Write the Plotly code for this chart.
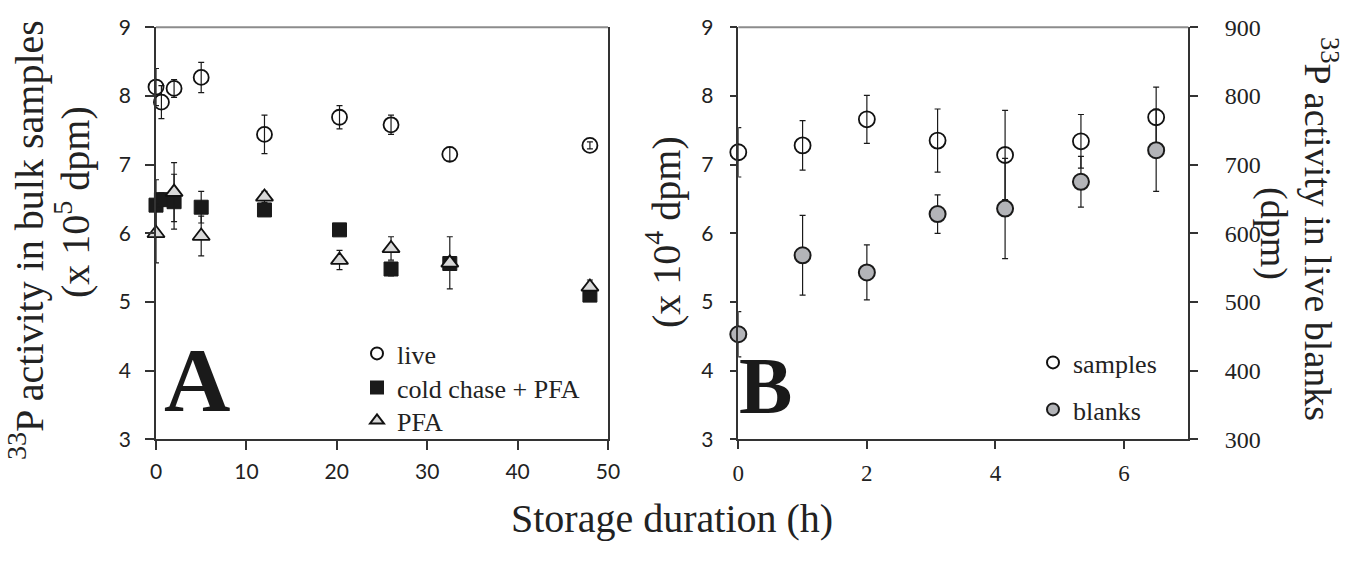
import plotly.graph_objects as go

W, H = 1345, 565

# ---------------- data: panel A ----------------
live_t = [0, 0.6, 2, 5, 12, 20.3, 26, 32.5, 48]
live_v = [8.13, 7.91, 8.11, 8.27, 7.44, 7.69, 7.58, 7.15, 7.28]
live_e = [0.27, 0.24, 0.13, 0.22, 0.28, 0.17, 0.14, 0.10, 0.05]

chase_t = [0, 0.6, 2, 5, 12, 20.3, 26, 32.5, 48]
chase_v = [6.41, 6.49, 6.46, 6.38, 6.34, 6.05, 5.48, 5.56, 5.10]
chase_e = [0.37, 0.10, 0.40, 0.23, 0.08, 0.05, 0.10, 0.10, 0.05]

pfa_t = [0, 2, 5, 12, 20.3, 26, 32.5, 48]
pfa_v = [6.00, 6.60, 5.96, 6.53, 5.61, 5.78, 5.57, 5.22]
pfa_e = [0.43, 0.43, 0.29, 0.08, 0.14, 0.17, 0.38, 0.10]

# ---------------- data: panel B ----------------
b_t = [0, 1, 2, 3.1, 4.15, 5.33, 6.5]
samples_v = [7.18, 7.28, 7.66, 7.35, 7.14, 7.34, 7.69]
samples_e = [0.36, 0.36, 0.35, 0.46, 0.65, 0.39, 0.44]
blanks_v = [453, 568, 543, 628, 636, 675, 721]
blanks_e = [33, 58, 40, 28, 73, 37, 60]

xA_ticks = [0, 10, 20, 30, 40, 50]
xB_ticks = [0, 2, 4, 6]
yL_ticks = [3, 4, 5, 6, 7, 8, 9]
yR_ticks = [300, 400, 500, 600, 700, 800, 900]

SERIF = "Liberation Serif, Times New Roman, serif"
SANS = "Lato, Open Sans, sans-serif"

domA = [156 / W, 608 / W]
domB = [738.3 / W, 1188.3 / W]
domY = [(H - 439.3) / H, (H - 27.3) / H]


def err(arr, w=3):
    return dict(type="data", array=arr, visible=True, color="#1a1a1a", thickness=1.2, width=w)


def leg(px, py):
    # legend box whose single item marker is centred near pixel (px, py)
    return dict(x=(px - 19) / W, y=(H - (py - 24)) / H, xanchor="left", yanchor="top",
                font=dict(family=SERIF, size=26, color="#222"), bgcolor="rgba(0,0,0,0)",
                itemsizing="constant")


fig = go.Figure()

fig.add_trace(go.Scatter(
    x=live_t, y=live_v, mode="markers", name="live", xaxis="x", yaxis="y",
    error_y=err(live_e), cliponaxis=False, legend="legend",
    marker=dict(symbol="circle-open", size=15, color="#111", line=dict(width=1.8, color="#111"))))
fig.add_trace(go.Scatter(
    x=chase_t, y=chase_v, mode="markers", name="cold chase + PFA", xaxis="x", yaxis="y",
    error_y=err(chase_e), cliponaxis=False, legend="legend2",
    marker=dict(symbol="square", size=14, color="#1a1a1a", line=dict(width=1, color="#1a1a1a"))))
fig.add_trace(go.Scatter(
    x=pfa_t, y=pfa_v, mode="markers", name="PFA", xaxis="x", yaxis="y",
    error_y=err(pfa_e), cliponaxis=False, legend="legend3",
    marker=dict(symbol="triangle-up", size=15, color="#d9d9d9", line=dict(width=1.8, color="#111"))))

fig.add_trace(go.Scatter(
    x=b_t, y=samples_v, mode="markers", name="samples", xaxis="x2", yaxis="y3",
    error_y=err(samples_e), cliponaxis=False, legend="legend4",
    marker=dict(symbol="circle-open", size=16, color="#111", line=dict(width=1.8, color="#111"))))
fig.add_trace(go.Scatter(
    x=b_t, y=blanks_v, mode="markers", name="blanks", xaxis="x2", yaxis="y4",
    error_y=err(blanks_e), cliponaxis=False, legend="legend5",
    marker=dict(symbol="circle", size=16, color="#b3b4b8", line=dict(width=2, color="#1a1a1a"))))

axis_common = dict(showgrid=False, zeroline=False, showline=True, linecolor="#333",
                   linewidth=1.5, ticks="outside", tickcolor="#333", tickwidth=1.5,
                   automargin=False)

fig.update_layout(
    width=W, height=H,
    margin=dict(l=0, r=0, t=0, b=0, pad=0, autoexpand=False),
    paper_bgcolor="white", plot_bgcolor="white",
    xaxis=dict(domain=domA, range=[0, 50], tickvals=xA_ticks, anchor="y", ticklen=9,
               ticklabelstandoff=4, tickfont=dict(family=SANS, size=21, color="#222"), **axis_common),
    yaxis=dict(domain=domY, range=[3, 9], tickvals=yL_ticks, anchor="x", ticklen=9, mirror=True,
               ticklabelstandoff=10, tickfont=dict(family=SANS, size=21, color="#222"), **axis_common),
    xaxis2=dict(domain=domB, range=[0, 7], tickvals=xB_ticks, anchor="y3", ticklen=8,
                ticklabelstandoff=4, tickfont=dict(family=SERIF, size=23, color="#222"), **axis_common),
    yaxis3=dict(domain=domY, range=[3, 9], tickvals=yL_ticks, anchor="x2", ticklen=7,
                ticklabelstandoff=12, tickfont=dict(family=SANS, size=21, color="#222"), **axis_common),
    yaxis4=dict(domain=domY, range=[300, 900], tickvals=yR_ticks, anchor="x2", overlaying="y3",
                side="right", ticklen=8, ticklabelstandoff=22,
                tickfont=dict(family=SERIF, size=24, color="#222"), **axis_common),
    legend=leg(376, 354),
    legend2=leg(376, 388),
    legend3=leg(376, 421),
    legend4=leg(1052, 363),
    legend5=leg(1052, 410),
    showlegend=True,
)

# gray top frame lines
for xr, yr in (("x domain", "y domain"), ("x2 domain", "y3 domain")):
    fig.add_shape(type="line", xref=xr, yref=yr, x0=0, x1=1, y0=1, y1=1,
                  line=dict(color="#8c8c8c", width=2))

TF = 40
ann = []
ann.append(dict(text="<b>A</b>", x=197 / W, y=(H - 380) / H, font=dict(family=SERIF, size=92, color="#1a1a1a")))
ann.append(dict(text="<b>B</b>", x=765 / W, y=(H - 386) / H, font=dict(family=SERIF, size=80, color="#1a1a1a")))
ann.append(dict(text="<sup>33</sup>P activity in bulk samples", x=26 / W, y=(H - 240) / H, textangle=-90,
                font=dict(family=SERIF, size=TF, color="#222")))
ann.append(dict(text="(x 10<sup>5</sup> dpm)", x=72 / W, y=(H - 202) / H, textangle=-90,
                font=dict(family=SERIF, size=TF, color="#222")))
ann.append(dict(text="(x 10<sup>4</sup> dpm)", x=663 / W, y=(H - 232) / H, textangle=-90,
                font=dict(family=SERIF, size=TF, color="#222")))
ann.append(dict(text="<sup>33</sup>P activity in live blanks", x=1321 / W, y=(H - 229) / H, textangle=90,
                font=dict(family=SERIF, size=38, color="#222")))
ann.append(dict(text="(dpm)", x=1273 / W, y=(H - 233) / H, textangle=90,
                font=dict(family=SERIF, size=38, color="#222")))
ann.append(dict(text="Storage duration (h)", x=672 / W, y=(H - 518) / H,
                font=dict(family=SERIF, size=TF, color="#222")))
for a in ann:
    a.update(xref="paper", yref="paper", showarrow=False, xanchor="center", yanchor="middle")
fig.update_layout(annotations=ann)

fig.write_html("out.html", post_script="document.body.style.margin='0px';",
               config={"displayModeBar": False})
